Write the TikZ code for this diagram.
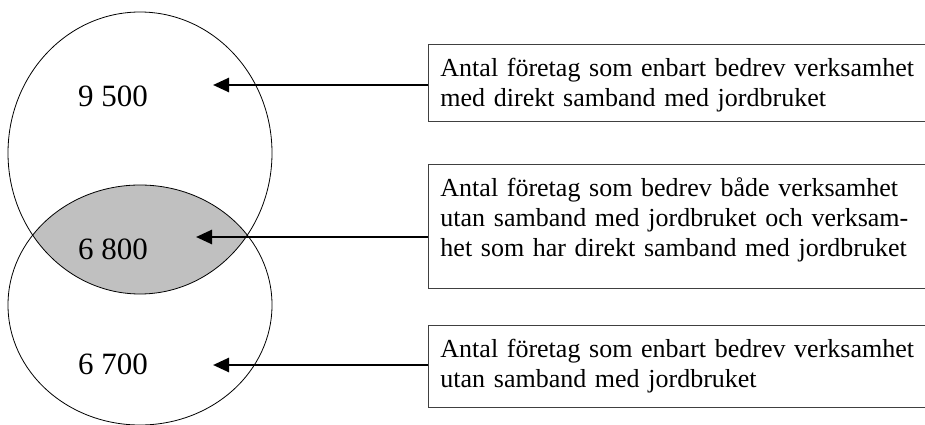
\documentclass[tikz,border=0pt]{standalone}
\usepackage{fontspec}
\setmainfont{Liberation Serif}
\usetikzlibrary{arrows.meta}
\definecolor{lensgray}{RGB}{192,192,192}
\newcommand{\topstod}{\rule{0pt}{24pt}}
\newcommand{\bottenstod}[1]{\rule[-#1]{0pt}{#1}}
\tikzset{
	textbox/.style={draw=black!75, line width=0.9pt, anchor=north west, text width=480pt, inner xsep=12pt, inner ysep=8pt, align=left, font=\fontsize{26}{30}\selectfont},
	number/.style={font=\fontsize{31}{31}\selectfont},
	pil/.style={-{Triangle[length=16pt,width=14pt]}, line width=2.6pt}
}

\begin{document}
\begin{tikzpicture}[x=1pt, y=-1pt]
		%%%%% START %%%%%
		\useasboundingbox (0, 0) rectangle (925, 425);
		
		\begin{scope}
			\clip (140, 153) ellipse [x radius=132pt, y radius=141pt];
			\fill[lensgray] (140, 305) ellipse [x radius=132pt, y radius=120pt];
		\end{scope}
		\draw[line width=0.8pt] (140, 153) ellipse [x radius=132pt, y radius=141pt];
		\draw[line width=0.8pt] (140, 305) ellipse [x radius=132pt, y radius=120pt];
		
		\node[number] (n1) at (113, 96) {9 500};
		\node[number] (n2) at (113, 249) {6 800};
		\node[number] (n3) at (113, 364) {6 700};
		
		\node[textbox] (box1) at (428, 44) {\topstod Antal företag som enbart bedrev verksamhet\\med direkt samband med jordbruket\bottenstod{7pt}};
		\node[textbox] (box2) at (428, 164) {\topstod Antal företag som bedrev både verksamhet\\utan samband med jordbruket och verksam-\\het som har direkt samband med jordbruket\bottenstod{24pt}};
		\node[textbox] (box3) at (428, 325) {\topstod Antal företag som enbart bedrev verksamhet\\utan samband med jordbruket\bottenstod{12pt}};
		
		\coordinate (tip1) at (213, 85);
		\coordinate (tip2) at (196, 237);
		\coordinate (tip3) at (213, 365);
		
		\draw[pil] (tip1 -| box1.west) -- (tip1);
		\draw[pil] (tip2 -| box2.west) -- (tip2);
		\draw[pil] (tip3 -| box3.west) -- (tip3);
		%%%%% END %%%%%
\end{tikzpicture}
\end{document}
